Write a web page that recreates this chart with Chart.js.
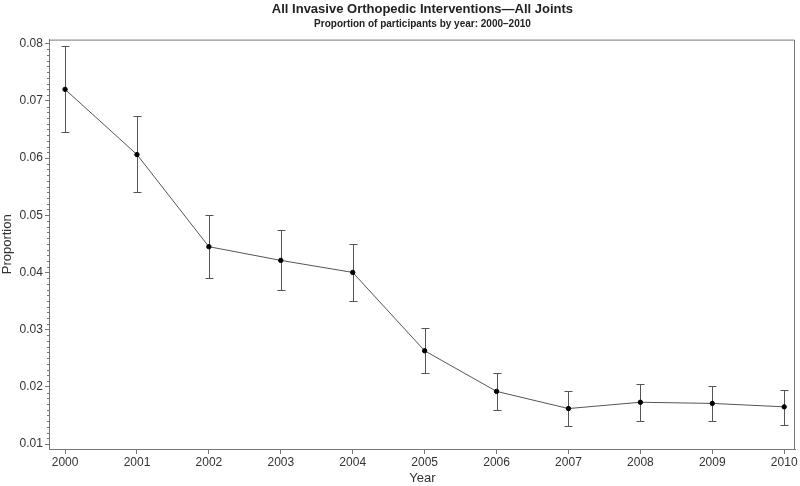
<!DOCTYPE html>
<html>
<head>
<meta charset="utf-8">
<script src="https://cdn.jsdelivr.net/npm/chart.js@4"></script>
<style>
  html, body { margin: 0; padding: 0; background: #fff; }
  #wrap { width: 800px; height: 486px; }
</style>
</head>
<body>
<div id="wrap"><canvas id="chart"></canvas></div>
<script>
const years = [2000, 2001, 2002, 2003, 2004, 2005, 2006, 2007, 2008, 2009, 2010];
const proportion = [0.0720, 0.0606, 0.0445, 0.0421, 0.0400, 0.0263, 0.0192, 0.0162, 0.0173, 0.0171, 0.0165];
const lowerCI = [0.0646, 0.0540, 0.0390, 0.0370, 0.0350, 0.0225, 0.0159, 0.0132, 0.0141, 0.0141, 0.0134];
const upperCI = [0.0795, 0.0673, 0.0500, 0.0474, 0.0449, 0.0303, 0.0225, 0.0192, 0.0205, 0.0202, 0.0195];
const yTicks = [0.01, 0.02, 0.03, 0.04, 0.05, 0.06, 0.07, 0.08];

const axisColor = '#777';
const font = 'Liberation Sans, Arial, sans-serif';

// cadre + petites graduations + barres d'erreur
const extras = {
  id: 'extras',
  beforeDatasetsDraw(chart) {
    const { ctx, chartArea: a, scales: { x, y } } = chart;
    ctx.save();
    ctx.strokeStyle = axisColor;
    ctx.lineWidth = 1;
    ctx.beginPath();
    ctx.moveTo(a.left, a.top + 0.5);
    ctx.lineTo(a.right - 0.5, a.top + 0.5);
    ctx.lineTo(a.right - 0.5, a.bottom);
    ctx.stroke();
    // petites graduations sur l'axe y
    ctx.beginPath();
    for (let i = 10; i <= 80; i++) {
      if (i % 10 === 0) continue;
      const py = Math.round(y.getPixelForValue(i / 1000)) + 0.5;
      ctx.moveTo(a.left, py);
      ctx.lineTo(a.left - 3, py);
    }
    ctx.stroke();
    // barres d'erreur
    ctx.strokeStyle = '#555';
    ctx.beginPath();
    years.forEach((yr, i) => {
      const px = Math.round(x.getPixelForValue(yr)) + 0.5;
      const lo = Math.round(y.getPixelForValue(lowerCI[i])) + 0.5;
      const hi = Math.round(y.getPixelForValue(upperCI[i])) + 0.5;
      ctx.moveTo(px, lo); ctx.lineTo(px, hi);
      ctx.moveTo(px - 4, lo); ctx.lineTo(px + 4, lo);
      ctx.moveTo(px - 4, hi); ctx.lineTo(px + 4, hi);
    });
    ctx.stroke();
    ctx.restore();
  }
};

new Chart(document.getElementById('chart'), {
  type: 'line',
  data: {
    datasets: [{
      data: years.map((yr, i) => ({ x: yr, y: proportion[i] })),
      borderColor: '#555',
      borderWidth: 1,
      pointRadius: 2.2,
      pointBackgroundColor: '#000',
      pointBorderColor: '#000',
      tension: 0
    }]
  },
  options: {
    responsive: true,
    maintainAspectRatio: false,
    animation: false,
    layout: { padding: { left: 0, right: 2, top: 0, bottom: 0 } },
    plugins: {
      legend: { display: false },
      tooltip: { enabled: false },
      title: {
        display: true,
        fullSize: false,
        text: 'All Invasive Orthopedic Interventions\u2014All Joints',
        color: '#222',
        font: { family: font, size: 13, weight: 'bold' },
        padding: { top: 2, bottom: 1 }
      },
      subtitle: {
        display: true,
        fullSize: false,
        text: 'Proportion of participants by year: 2000\u20132010',
        color: '#222',
        font: { family: font, size: 10, weight: 'bold' },
        padding: { top: 0, bottom: 9 }
      }
    },
    scales: {
      x: {
        type: 'linear',
        min: 1999.79,
        max: 2010.15,
        afterBuildTicks(scale) { scale.ticks = years.map(v => ({ value: v })); },
        ticks: {
          color: '#333',
          font: { family: font, size: 12 },
          padding: 1,
          maxRotation: 0,
          callback: v => String(v)
        },
        grid: { drawOnChartArea: false, tickLength: 5, color: axisColor },
        border: { color: axisColor },
        title: {
          display: true,
          text: 'Year',
          color: '#333',
          font: { family: font, size: 13 },
          padding: { top: 0, bottom: 0 }
        }
      },
      y: {
        min: 0.00913,
        max: 0.0807,
        afterBuildTicks(scale) { scale.ticks = yTicks.map(v => ({ value: v })); },
        ticks: {
          color: '#333',
          font: { family: font, size: 12 },
          padding: 2,
          callback: v => v.toFixed(2)
        },
        grid: { drawOnChartArea: false, tickLength: 5, color: axisColor },
        border: { color: axisColor },
        title: {
          display: true,
          text: 'Proportion',
          color: '#333',
          font: { family: font, size: 13 },
          padding: { top: 0, bottom: 2 }
        }
      }
    }
  },
  plugins: [extras]
});
</script>
</body>
</html>
